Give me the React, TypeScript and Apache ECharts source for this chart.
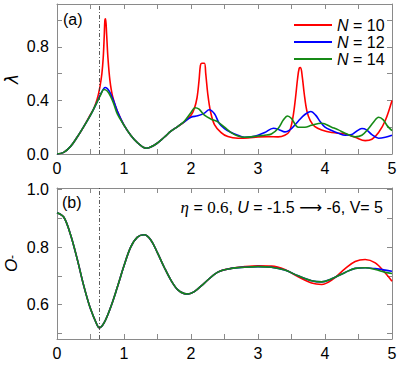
import React, { useEffect, useRef } from 'react';
import * as echarts from 'echarts';

// ---------- data ----------
const seriesNames = ['N = 10', 'N = 12', 'N = 14'];
const colors = ['#ff0000', '#0000ff', '#168a16'];
const markT = 0.63;

// panel (a): lambda(t)
const tRed = [0, 0.1, 0.2, 0.3, 0.4, 0.5, 0.55, 0.6, 0.64, 0.67, 0.69, 0.705, 0.715, 0.725, 0.74, 0.76, 0.79, 0.83, 0.9, 1.0, 1.1, 1.2, 1.33, 1.45, 1.6, 1.7, 1.8, 1.9, 2.0, 2.05, 2.09, 2.12, 2.14, 2.16, 2.2, 2.22, 2.25, 2.29, 2.35, 2.45, 2.55, 2.7, 2.85, 3.0, 3.15, 3.3, 3.4, 3.47, 3.52, 3.56, 3.59, 3.615, 3.635, 3.66, 3.69, 3.73, 3.78, 3.85, 3.95, 4.1, 4.3, 4.45, 4.6, 4.7, 4.8, 4.9, 5.0];
const lamRed = [0, 0.012, 0.055, 0.125, 0.205, 0.295, 0.34, 0.41, 0.5, 0.6, 0.72, 0.88, 1.0, 1.01, 0.9, 0.72, 0.55, 0.43, 0.32, 0.215, 0.14, 0.085, 0.043, 0.065, 0.125, 0.17, 0.205, 0.24, 0.29, 0.34, 0.42, 0.55, 0.66, 0.678, 0.678, 0.6, 0.45, 0.32, 0.22, 0.16, 0.13, 0.118, 0.12, 0.128, 0.13, 0.128, 0.14, 0.17, 0.27, 0.42, 0.56, 0.64, 0.645, 0.58, 0.45, 0.32, 0.25, 0.205, 0.18, 0.16, 0.15, 0.125, 0.1, 0.11, 0.16, 0.25, 0.4];

const tBlue = [0, 0.1, 0.2, 0.3, 0.4, 0.5, 0.6, 0.65, 0.72, 0.78, 0.85, 0.9, 1.0, 1.1, 1.2, 1.33, 1.45, 1.6, 1.7, 1.8, 1.9, 2.0, 2.1, 2.2, 2.27, 2.35, 2.42, 2.5, 2.6, 2.7, 2.8, 2.9, 3.0, 3.1, 3.23, 3.32, 3.4, 3.5, 3.6, 3.7, 3.79, 3.86, 3.93, 4.0, 4.1, 4.2, 4.3, 4.4, 4.47, 4.55, 4.62, 4.7, 4.8, 4.9, 5.0];
const lamBlue = [0, 0.012, 0.055, 0.125, 0.205, 0.29, 0.39, 0.445, 0.497, 0.47, 0.39, 0.32, 0.215, 0.14, 0.085, 0.043, 0.065, 0.125, 0.17, 0.205, 0.24, 0.275, 0.285, 0.305, 0.33, 0.3, 0.23, 0.19, 0.16, 0.14, 0.125, 0.128, 0.14, 0.16, 0.192, 0.18, 0.165, 0.19, 0.245, 0.295, 0.317, 0.29, 0.24, 0.2, 0.175, 0.155, 0.14, 0.145, 0.17, 0.19, 0.18, 0.145, 0.118, 0.125, 0.14];

const tGreen = [0, 0.1, 0.2, 0.3, 0.4, 0.5, 0.6, 0.65, 0.7, 0.75, 0.8, 0.85, 0.9, 1.0, 1.1, 1.2, 1.33, 1.45, 1.6, 1.7, 1.8, 1.9, 2.0, 2.06, 2.12, 2.2, 2.3, 2.4, 2.5, 2.6, 2.7, 2.8, 2.9, 3.0, 3.1, 3.2, 3.3, 3.38, 3.44, 3.5, 3.6, 3.7, 3.8, 3.95, 4.1, 4.2, 4.3, 4.45, 4.55, 4.65, 4.72, 4.8, 4.87, 4.93, 5.0];
const lamGreen = [0, 0.012, 0.055, 0.125, 0.205, 0.29, 0.39, 0.44, 0.482, 0.47, 0.43, 0.37, 0.3, 0.215, 0.14, 0.085, 0.043, 0.065, 0.125, 0.17, 0.205, 0.245, 0.31, 0.345, 0.335, 0.29, 0.26, 0.24, 0.2, 0.16, 0.135, 0.125, 0.128, 0.135, 0.14, 0.15, 0.19, 0.255, 0.284, 0.265, 0.2, 0.2, 0.215, 0.23, 0.2, 0.18, 0.155, 0.128, 0.14, 0.19, 0.235, 0.274, 0.255, 0.21, 0.175];

// panel (b): O_-(t)
const tO = [0, 0.1, 0.2, 0.3, 0.4, 0.5, 0.6, 0.63, 0.7, 0.8, 0.9, 1.0, 1.1, 1.2, 1.3, 1.4, 1.5, 1.6, 1.7, 1.8, 1.9, 1.96, 2.05, 2.2, 2.4, 2.6, 2.8, 3.0, 3.2, 3.4, 3.6, 3.8, 3.95, 4.1, 4.3, 4.45, 4.6, 4.75, 4.9, 5.0];
const oGreen = [0.92, 0.905, 0.845, 0.76, 0.665, 0.585, 0.528, 0.519, 0.535, 0.59, 0.66, 0.735, 0.8, 0.835, 0.843, 0.825, 0.78, 0.73, 0.685, 0.652, 0.638, 0.637, 0.645, 0.675, 0.713, 0.726, 0.73, 0.732, 0.73, 0.72, 0.7, 0.683, 0.679, 0.69, 0.712, 0.726, 0.728, 0.722, 0.712, 0.708];
const oBlue = [0.92, 0.905, 0.845, 0.76, 0.665, 0.585, 0.528, 0.519, 0.535, 0.59, 0.66, 0.735, 0.8, 0.835, 0.843, 0.825, 0.78, 0.73, 0.685, 0.652, 0.638, 0.637, 0.645, 0.675, 0.713, 0.726, 0.73, 0.732, 0.73, 0.72, 0.7, 0.683, 0.679, 0.69, 0.712, 0.726, 0.728, 0.725, 0.72, 0.716];
const oRed = [0.92, 0.905, 0.845, 0.76, 0.665, 0.585, 0.528, 0.519, 0.535, 0.59, 0.66, 0.735, 0.8, 0.835, 0.843, 0.825, 0.78, 0.73, 0.685, 0.652, 0.638, 0.637, 0.645, 0.675, 0.713, 0.726, 0.732, 0.735, 0.734, 0.722, 0.697, 0.675, 0.67, 0.685, 0.725, 0.75, 0.757, 0.745, 0.71, 0.681];

// ---------- helpers ----------
const zip = (t: number[], v: number[]) => t.map((x, i) => [x, v[i]]);
const frame = '#8a8a8a';
const FONT = 'Liberation Sans';

function xAxis(grid: number, pos: 'top' | 'bottom', showLabel: boolean) {
  return {
    type: 'value', gridIndex: grid, position: pos, min: 0, max: 5, interval: 0.5,
    axisLine: { show: true, onZero: false, lineStyle: { color: frame, width: 1 } },
    axisTick: { show: true, inside: true, length: 5, lineStyle: { color: frame } },
    axisLabel: {
      show: showLabel, margin: 6, color: '#000', fontSize: 16, fontFamily: FONT,
      formatter: (v: number) => (Math.abs(v - Math.round(v)) < 1e-6 ? String(Math.round(v)) : ''),
    },
    splitLine: { show: false },
  };
}

function yAxis(grid: number, pos: 'left' | 'right', showLabel: boolean, range: any, fmt: (v: number) => string, name?: any) {
  return {
    type: 'value', gridIndex: grid, position: pos, ...range,
    axisLine: { show: true, onZero: false, lineStyle: { color: frame, width: 1 } },
    axisTick: { show: true, inside: true, length: 5, lineStyle: { color: frame } },
    axisLabel: { show: showLabel, margin: 8, color: '#000', fontSize: 16, fontFamily: FONT, formatter: fmt },
    splitLine: { show: false },
    ...(name || {}),
  };
}

const fmtTop = (v: number) => (v <= 1.0001 && Math.abs(v / 0.4 - Math.round(v / 0.4)) < 1e-6 ? v.toFixed(1) : '');
const fmtBot = (v: number) => (v > 0.55 && v < 1.001 && Math.abs(v * 5 - Math.round(v * 5)) < 1e-6 ? v.toFixed(1) : '');

const markLine = {
  silent: true, symbol: ['none', 'none'], label: { show: false },
  lineStyle: { type: [4, 2, 1, 2], color: '#333', width: 0.8 },
  data: [{ xAxis: markT }],
};

function lineSeries(name: string, color: string, data: number[][], xi: number, yi: number, ml?: any) {
  return {
    type: 'line', name, data, xAxisIndex: xi, yAxisIndex: yi,
    showSymbol: false, symbol: 'none', smooth: 0.35,
    lineStyle: { color, width: 1.6 }, itemStyle: { color },
    ...(ml ? { markLine: ml } : {}),
  };
}

export default function App() {
  const ref = useRef<HTMLDivElement>(null);
  useEffect(() => {
    if (!ref.current) return;
    const chart = echarts.init(ref.current, undefined, { renderer: 'svg' });
    chart.setOption({
      animation: false,
      backgroundColor: '#fff',
      textStyle: { fontFamily: FONT },
      grid: [
        { left: 57, top: 4, width: 335, height: 150, containLabel: false, outerBoundsMode: 'none' },
        { left: 57, top: 188, width: 335, height: 151, containLabel: false, outerBoundsMode: 'none' },
      ],
      xAxis: [xAxis(0, 'bottom', true), xAxis(0, 'top', false), xAxis(1, 'bottom', true), xAxis(1, 'top', false)],
      yAxis: [
        yAxis(0, 'left', true, { min: 0, max: 1.12, interval: 0.2 }, fmtTop, {
          name: 'λ', nameLocation: 'middle', nameGap: 37, nameMoveOverlap: false,
          nameTextStyle: { fontSize: 17, fontStyle: 'italic', fontFamily: 'DejaVu Sans', color: '#000' },
        }),
        yAxis(0, 'right', false, { min: 0, max: 1.12, interval: 0.2 }, fmtTop),
        yAxis(1, 'left', true, { min: 0.48, max: 1.006, splitNumber: 5 }, fmtBot, {
          name: '{a|O}{b|-}', nameLocation: 'middle', nameGap: 37, nameMoveOverlap: false,
          nameTextStyle: {
            color: '#000',
            rich: {
              a: { fontSize: 17, fontStyle: 'italic', fontFamily: FONT, color: '#000' },
              b: { fontSize: 12, fontFamily: FONT, color: '#000' },
            },
          },
        }),
        yAxis(1, 'right', false, { min: 0.48, max: 1.006, splitNumber: 5 }, fmtBot),
      ],
      legend: {
        data: seriesNames, orient: 'vertical', left: 289, top: 12,
        icon: 'rect', itemWidth: 38, itemHeight: 2, itemGap: 1,
        formatter: (n: string) => '{i|N}' + n.slice(1),
        textStyle: {
          fontSize: 16, fontFamily: FONT, color: '#000',
          rich: { i: { fontSize: 16, fontStyle: 'italic', fontFamily: FONT, color: '#000' } },
        },
      },
      graphic: [
        { type: 'text', left: 63, top: 11, style: { text: '(a)', fontSize: 16, fontFamily: FONT, fill: '#000' } },
        { type: 'text', left: 62, top: 194, style: { text: '(b)', fontSize: 16, fontFamily: FONT, fill: '#000' } },
        {
          type: 'text', right: 16, top: 199,
          style: {
            text: '{e|η} = {n|0.6}, {u|U} = -1.5 {a|⟶} -6, V= 5',
            fontSize: 16, fontFamily: FONT, fill: '#000',
            rich: {
              e: { fontSize: 17, fontStyle: 'italic', fontFamily: 'Liberation Serif', fill: '#000' },
              n: { fontSize: 17, fontFamily: 'Liberation Serif', fill: '#000' },
              u: { fontSize: 16, fontStyle: 'italic', fontFamily: FONT, fill: '#000' },
              a: { fontSize: 16, fontFamily: 'DejaVu Sans', fill: '#000' },
            },
          },
        },
      ],
      series: [
        lineSeries(seriesNames[0], colors[0], zip(tRed, lamRed), 0, 0),
        lineSeries(seriesNames[1], colors[1], zip(tBlue, lamBlue), 0, 0),
        lineSeries(seriesNames[2], colors[2], zip(tGreen, lamGreen), 0, 0, markLine),
        lineSeries(seriesNames[0], colors[0], zip(tO, oRed), 2, 2),
        lineSeries(seriesNames[1], colors[1], zip(tO, oBlue), 2, 2),
        lineSeries(seriesNames[2], colors[2], zip(tO, oGreen), 2, 2, markLine),
      ],
    });
    return () => chart.dispose();
  }, []);
  return <div ref={ref} style={{ position: 'absolute', left: 0, top: 0, width: 399, height: 365 }} />;
}
